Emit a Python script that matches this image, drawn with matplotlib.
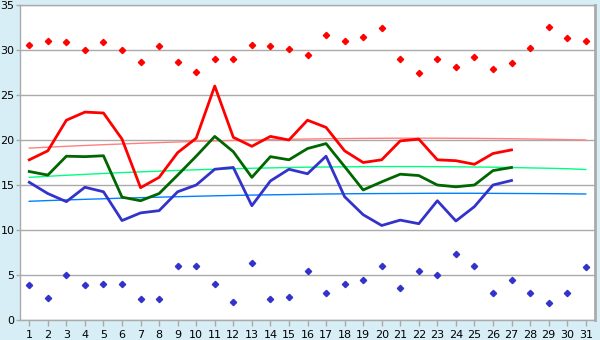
import matplotlib
matplotlib.use("Agg")
import matplotlib.pyplot as plt

days = list(range(1, 32))
line_days = list(range(1, 28))

# daily extremes (markers)
max_points = [30.6, 31.0, 30.9, 30.0, 30.9, 30.0, 28.7, 30.5, 28.7, 27.6,
              29.0, 29.0, 30.6, 30.4, 30.1, 29.5, 31.7, 31.0, 31.5, 32.4,
              29.0, 27.4, 29.0, 28.1, 29.2, 27.9, 28.6, 30.2, 32.6, 31.3, 31.0]
min_points = [3.85, 2.5, 4.95, 3.85, 3.95, 4.05, 2.3, 2.3, 6.05, 5.95,
              4.05, 2.05, 6.3, 2.3, 2.6, 5.5, 2.95, 4.05, 4.5, 5.95,
              3.6, 5.4, 4.95, 7.3, 6.05, 2.95, 4.4, 2.95, 1.85, 2.95, 5.85]

# daily lines (ending at day 27)
high_line = [17.8, 18.8, 22.2, 23.1, 23.0, 20.1, 14.7, 15.85, 18.6, 20.2,
             26.0, 20.3, 19.3, 20.4, 20.0, 22.2, 21.4, 18.8, 17.5, 17.8,
             19.9, 20.1, 17.8, 17.7, 17.3, 18.5, 18.9]
mean_line = [16.5, 16.1, 18.2, 18.15, 18.25, 13.65, 13.25, 14.05, 16.1, 18.2,
             20.4, 18.7, 15.85, 18.15, 17.8, 19.05, 19.6, 17.05, 14.45, 15.35,
             16.2, 16.05, 15.0, 14.8, 15.0, 16.6, 16.95]
low_line = [15.3, 14.05, 13.15, 14.75, 14.25, 11.05, 11.9, 12.15, 14.25, 15.0,
            16.75, 16.95, 12.7, 15.45, 16.75, 16.25, 18.2, 13.7, 11.7, 10.5,
            11.1, 10.7, 13.25, 11.0, 12.6, 15.0, 15.5]

# trend curves at each day
high_trend = [19.10, 19.20, 19.30, 19.39, 19.48, 19.56, 19.64, 19.71, 19.78, 19.84,
              19.90, 19.95, 20.00, 20.04, 20.08, 20.11, 20.14, 20.16, 20.18, 20.19,
              20.20, 20.20, 20.20, 20.19, 20.18, 20.16, 20.14, 20.11, 20.08, 20.04, 20.00]
mean_trend = [15.85, 15.97, 16.08, 16.18, 16.28, 16.38, 16.46, 16.54, 16.62, 16.69,
              16.75, 16.81, 16.86, 16.90, 16.94, 16.98, 17.00, 17.02, 17.04, 17.05,
              17.05, 17.05, 17.04, 17.02, 17.00, 16.98, 16.94, 16.90, 16.86, 16.81, 16.72]
low_trend = [13.19, 13.27, 13.34, 13.41, 13.47, 13.54, 13.59, 13.65, 13.70, 13.75,
             13.80, 13.84, 13.88, 13.91, 13.94, 13.97, 14.00, 14.02, 14.04, 14.05,
             14.06, 14.07, 14.08, 14.08, 14.08, 14.07, 14.06, 14.05, 14.04, 14.02, 14.00]

y_ticks = [0, 5, 10, 15, 20, 25, 30, 35]

bg = "#D8EEF6"
grid = "#AAAAAA"

fig = plt.figure(figsize=(6, 3.4), dpi=100, facecolor=bg)
ax = fig.add_axes([20 / 600, 20 / 340, 575 / 600, 315 / 340])
ax.set_facecolor("white")

for y in y_ticks:
    ax.axhline(y, color=grid, lw=1, zorder=1)

ax.plot(days, high_trend, color="#FF8080", lw=1, zorder=2)
ax.plot(days, mean_trend, color="#00FF80", lw=1, zorder=2)
ax.plot(days, low_trend, color="#0080FF", lw=1, zorder=2)

ax.plot(line_days, high_line, color="#FF0000", lw=2, zorder=3)
ax.plot(line_days, mean_line, color="#006600", lw=2, zorder=3)
ax.plot(line_days, low_line, color="#3333CC", lw=2, zorder=3)

ax.plot(days, max_points, ls="none", marker="D", ms=3.2, color="#FF0000", zorder=4)
ax.plot(days, min_points, ls="none", marker="D", ms=3.2, color="#3333CC", zorder=4)

ax.set_xlim(0.5, 31.5)
ax.set_ylim(0, 35)
ax.set_xticks(days)
ax.set_yticks(y_ticks)
ax.tick_params(axis="both", colors="black", labelsize=8, width=1)
ax.tick_params(axis="x", color=grid, length=4, pad=3)
ax.tick_params(axis="y", color=grid, length=3, pad=1)

for side in ["left", "bottom", "top", "right"]:
    ax.spines[side].set_color(grid)
    ax.spines[side].set_linewidth(1)
ax.spines["right"].set_linewidth(2)

fig.savefig("out.png", dpi=100, facecolor=bg)
